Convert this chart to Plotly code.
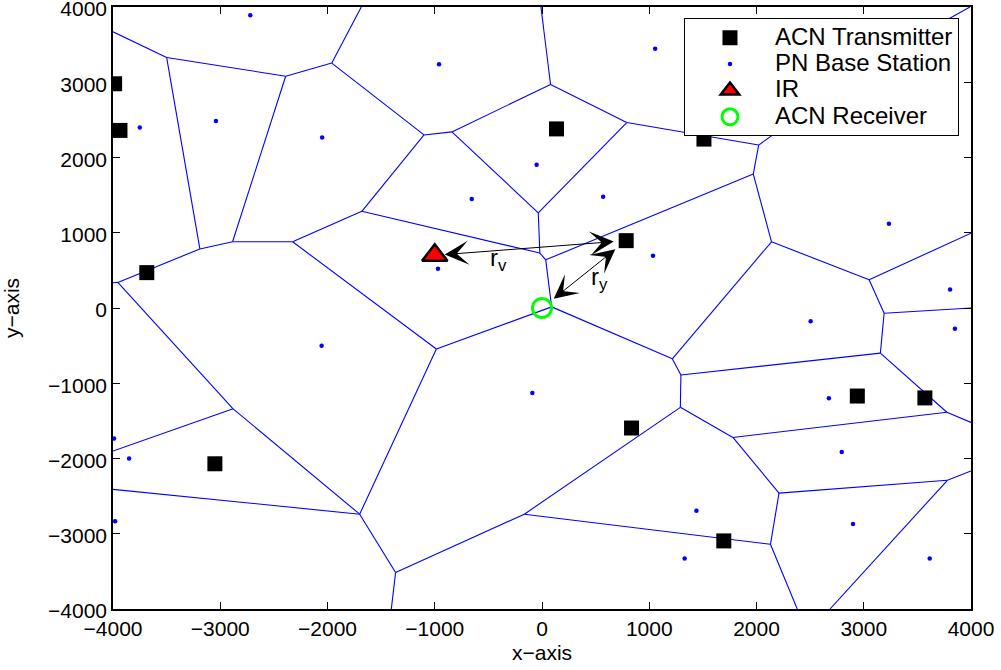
import plotly.graph_objects as go

# PN base stations (Voronoi sites)
bs_x = [-2720, -3750, -3040, -2050, -960, -50, -655, 570, 1055, -2055, -970, -90, 1035,
        3235, 3805, 3850, 2505, 2675, 2795, 1440, 1330, 2900, 3615, -3990, -3850, -3980]
bs_y = [3890, 2400, 2485, 2265, 3240, 1905, 1450, 1480, 3445, -500, 520, -1130, 695,
        1120, 245, -275, -175, -1200, -1915, -2695, -3330, -2870, -3330, -1735, -2000, -2835]

# ACN transmitters
tx_x = [-3985, -3935, 135, 1510, -3685, 785, 2940, 3570, -3050, 835, 1695]
tx_y = [2980, 2360, 2380, 2245, 470, 895, -1170, -1195, -2070, -1595, -3095]

# interfering receiver (IR) and ACN receiver
ir_x, ir_y = [-1000], [700]
rx_x, rx_y = [0], [0]

# Voronoi vertices of the PN cells (those on the border are where edges leave the box)
vert_name = ["A", "B", "C", "D", "E", "F", "G", "H", "Ht", "I", "J", "Jh", "Jt", "K", "L",
             "M", "N", "Ne", "P", "Pe", "Q", "O", "R", "U", "S", "Se", "T", "JJ", "II",
             "IIb", "KK", "KKe", "KKb", "EE", "CC", "CCb", "DD", "DDe", "FF", "FFe",
             "GG", "GGe", "HH", "AA", "Z", "Y", "X", "W", "BB", "V"]
vert_x = [-4000, -3500, -2390, -1960, -1685, -1100, -840, 80, -10, 790, 2020, 3205, 3990,
          1970, 35, 2140, 3050, 4000, 3190, 4000, 3155, 1215, 1295, 1290, 3775, 4000, 1780,
          2210, 2130, 2380, 3780, 4000, 2685, -165, -1365, -1405, -1700, -4000, -2880, -4000,
          -3955, -4000, -3190, -2885, -2325, -1680, -20, -35, -985, 90]
vert_y = [3670, 3330, 3080, 3255, 4000, 2300, 2340, 2970, 4000, 2465, 2165, 3375, 4000,
          1780, 640, 880, 375, 995, -70, 0, -600, -675, -890, -1320, -1385, -1520, -1720,
          -2460, -3140, -4000, -2290, -2165, -4000, -2740, -3515, -4000, -2740, -2410, -1340,
          -1900, 340, 335, 785, 880, 880, 1285, 730, 1265, -545, 15]

edges = [("A", "B"), ("B", "C"), ("C", "D"), ("D", "E"), ("D", "F"), ("F", "G"), ("G", "H"),
         ("H", "Ht"), ("H", "I"), ("I", "J"), ("J", "Jh"), ("Jh", "Jt"), ("J", "K"), ("K", "L"),
         ("K", "M"), ("M", "N"), ("N", "Ne"), ("N", "P"), ("P", "Pe"), ("P", "Q"), ("Q", "R"),
         ("R", "O"), ("O", "M"), ("O", "V"), ("R", "U"), ("Q", "S"), ("S", "Se"), ("S", "T"),
         ("U", "T"), ("U", "EE"), ("T", "JJ"), ("JJ", "II"), ("JJ", "KK"), ("KK", "KKe"),
         ("KK", "KKb"), ("II", "IIb"), ("EE", "II"), ("EE", "CC"), ("CC", "CCb"), ("CC", "DD"),
         ("DD", "DDe"), ("DD", "FF"), ("DD", "BB"), ("FF", "FFe"), ("FF", "GG"), ("GG", "GGe"),
         ("GG", "HH"), ("HH", "B"), ("HH", "AA"), ("AA", "C"), ("AA", "Z"), ("Z", "Y"),
         ("Z", "BB"), ("Y", "F"), ("Y", "X"), ("X", "W"), ("W", "G"), ("W", "I"), ("X", "L"),
         ("L", "V"), ("V", "BB")]

pos = {n: (x, y) for n, x, y in zip(vert_name, vert_x, vert_y)}
ex, ey = [], []
for a, b in edges:
    ex += [pos[a][0], pos[b][0], None]
    ey += [pos[a][1], pos[b][1], None]

FONT = "Liberation Sans, Arial, Helvetica, sans-serif"


def legend_label(s):
    # larger glyphs than the legend's base font, keeping rows compact
    return '<span style="font-size:24px">' + s + "</span>"


fig = go.Figure()
fig.add_trace(go.Scatter(x=ex, y=ey, mode="lines", line=dict(color="#0000ff", width=1.1),
                         showlegend=False, hoverinfo="skip"))
fig.add_trace(go.Scatter(x=tx_x, y=tx_y, mode="markers", name=legend_label("ACN Transmitter"),
                         marker=dict(symbol="square", size=15, color="black")))
fig.add_trace(go.Scatter(x=bs_x, y=bs_y, mode="markers", name=legend_label("PN Base Station"),
                         marker=dict(symbol="circle", size=4.5, color="#0000ff")))
fig.add_trace(go.Scatter(x=ir_x, y=ir_y, mode="markers", name=legend_label("IR"),
                         marker=dict(symbol="triangle-up", size=22, color="#ff0000",
                                     line=dict(color="black", width=2.5))))
fig.add_trace(go.Scatter(x=rx_x, y=rx_y, mode="markers", name=legend_label("ACN Receiver"),
                         marker=dict(symbol="circle-open", size=19, color="#00ff00",
                                     line=dict(color="#00ff00", width=3))))

# distance arrows: IR <-> serving transmitter, receiver <-> transmitter
arrow = dict(xref="x", yref="y", axref="x", ayref="y", showarrow=True, text="",
             arrowhead=3, startarrowhead=3, arrowside="end+start", arrowsize=4,
             startarrowsize=4, arrowwidth=1, arrowcolor="black")
fig.add_annotation(x=ir_x[0], y=ir_y[0], ax=tx_x[5], ay=tx_y[5], standoff=10,
                   startstandoff=11, **arrow)
fig.add_annotation(x=rx_x[0], y=rx_y[0], ax=tx_x[5], ay=tx_y[5], standoff=15,
                   startstandoff=12, **arrow)
fig.add_annotation(x=-410, y=650, text="r<sub>v</sub>", showarrow=False,
                   font=dict(family=FONT, size=24, color="black"))
fig.add_annotation(x=535, y=390, text="r<sub>y</sub>", showarrow=False,
                   font=dict(family=FONT, size=24, color="black"))

axis = dict(range=[-4000, 4000], dtick=1000, showgrid=False, zeroline=False,
            ticks="inside", ticklen=7, tickwidth=1, tickcolor="black",
            showline=True, linecolor="black", linewidth=1.5, mirror="ticks",
            ticklabeloverflow="allow", automargin=False,
            tickfont=dict(family=FONT, size=21, color="black"))
fig.update_xaxes(**axis, title=dict(text="x−axis", font=dict(family=FONT, size=21, color="black"),
                                    standoff=6))
fig.update_yaxes(**axis, ticklabelshift=2,
                 title=dict(text="y−axis", font=dict(family=FONT, size=21, color="black"),
                            standoff=26))

fig.update_layout(
    width=1001, height=670,
    margin=dict(l=113, r=30, t=7, b=61),
    plot_bgcolor="white", paper_bgcolor="white",
    legend=dict(x=0.986, y=0.981, xanchor="right", yanchor="top",
                bgcolor="white", bordercolor="black", borderwidth=1,
                font=dict(family=FONT, size=18, color="black"),
                itemwidth=80, tracegroupgap=0),
)

fig.write_html("out.html")
